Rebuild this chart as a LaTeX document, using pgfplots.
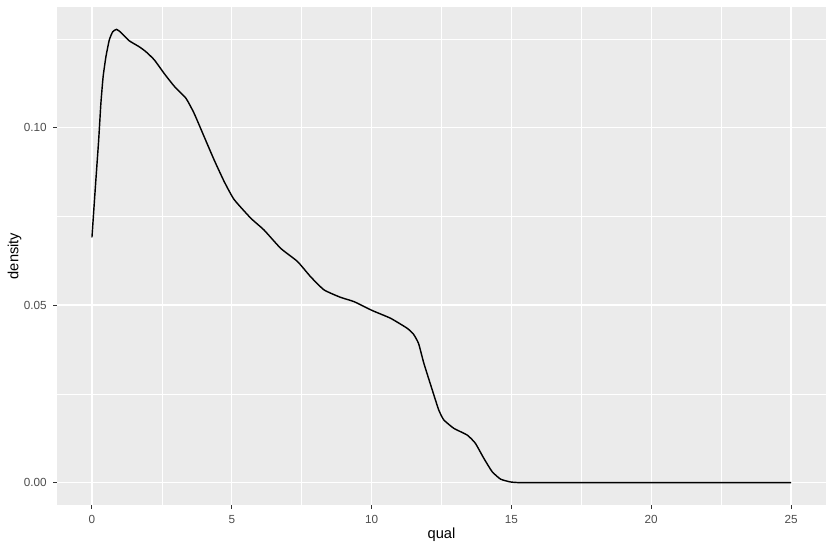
\documentclass[border=0pt]{standalone}
\usepackage{pgfplots}
\pgfplotsset{compat=1.18}
\usepackage{fontspec}
\setmainfont{Liberation Sans}
\definecolor{panelbg}{HTML}{EBEBEB}
\definecolor{ticklab}{HTML}{4D4D4D}
\definecolor{tickcol}{HTML}{333333}
\begin{document}
\begin{tikzpicture}
\begin{axis}[
  scale only axis,
  width=576.75pt, height=373.5pt,
  xmin=-1.25, xmax=26.25,
  ymin=-0.0063, ymax=0.134,
  axis background/.style={fill=panelbg},
  axis line style={draw=none},
  xtick={0,5,10,15,20,25},
  ytick={0,0.05,0.10},
  yticklabels={0.00,0.05,0.10},
  minor xtick={2.5,7.5,12.5,17.5,22.5},
  minor ytick={0.025,0.075,0.125},
  grid=both,
  major grid style={draw=white, line width=1.07pt},
  minor grid style={draw=white, line width=0.53pt},
  tick align=outside,
  major tick length=2.75pt,
  minor tick length=0pt,
  tick style={draw=tickcol, line width=0.8pt},
  xtick pos=bottom, ytick pos=left,
  ticklabel style={font=\fontsize{8.8}{10}\selectfont, text=ticklab, inner sep=0pt, outer sep=0pt},
  xticklabel shift=5pt,
  yticklabel shift=5pt,
  /pgf/number format/assume math mode=true,
  scaled y ticks=false,
  xlabel={qual}, ylabel={density},
  label style={font=\fontsize{11}{13}\selectfont, inner sep=0pt, outer sep=0pt},
  xlabel style={at={(axis description cs:0.5,0)}, anchor=north, yshift=-16.8pt},
  ylabel style={at={(axis description cs:0,0.5)}, anchor=center, yshift=31.9pt},
  clip=false,
]
\addplot[black, line width=1.07pt, smooth, tension=0.3] coordinates {
(0,0.0691) (0.12,0.0830) (0.24,0.0965) (0.32,0.1069) (0.40,0.1144)
(0.5,0.120) (0.62,0.1247) (0.74,0.1270) (0.88,0.1277) (1.04,0.1268) (1.33,0.1245)
(1.69,0.1228) (1.93,0.1214) (2.23,0.1191) (2.58,0.1153) (2.94,0.1117) (3.36,0.1083) (3.65,0.1041)
(4.01,0.0975) (4.37,0.0909) (4.73,0.0848) (5.08,0.0798) (5.68,0.0745) (6.15,0.0712)
(6.75,0.0660) (7.35,0.0623) (7.82,0.0580) (8.30,0.0543) (8.89,0.0522) (9.37,0.0510)
(10.02,0.0485) (10.68,0.0463) (11.27,0.0435) (11.50,0.0418) (11.68,0.0392) (11.87,0.0336) (12.17,0.0261)
(12.40,0.0205) (12.58,0.0177) (12.94,0.0153) (13.42,0.0134) (13.71,0.0111) (14.01,0.0069) (14.31,0.0031)
(14.61,0.0010) (14.96,0.0002) (15.3,0.0) (16,0.0) (20,0.0) (25,0.0)
};
\end{axis}
\pgfresetboundingbox
\path[use as bounding box] ([shift={(-42.75pt,-33.75pt)}]current axis.south west) rectangle ([shift={(5.25pt,5.25pt)}]current axis.north east);
\end{tikzpicture}
\end{document}
